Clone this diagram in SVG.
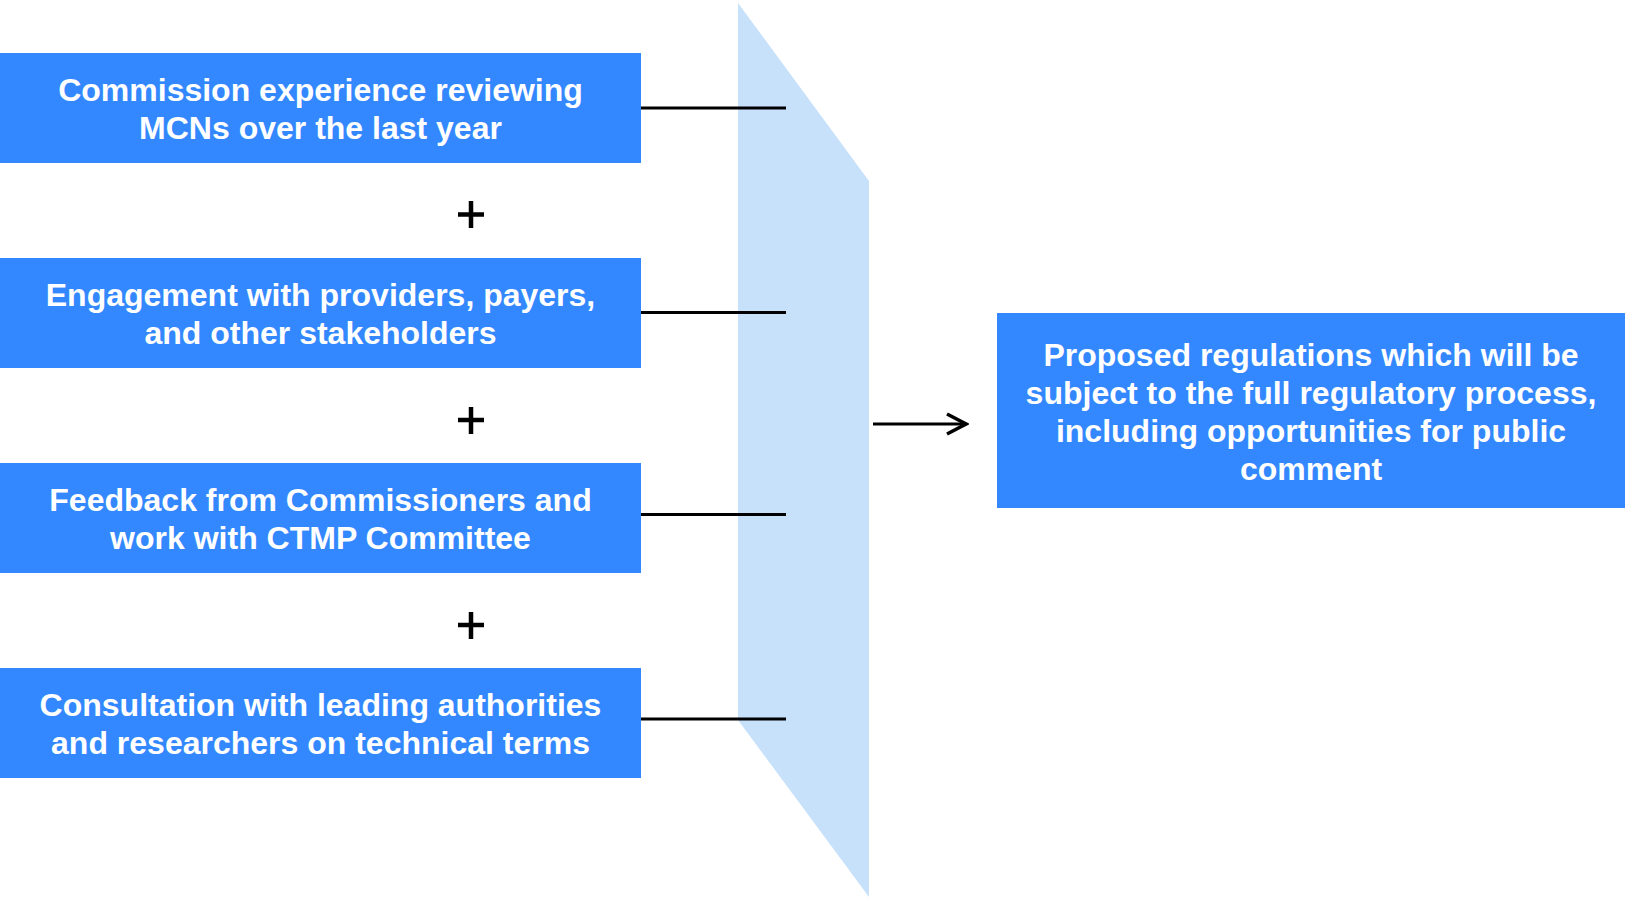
<svg xmlns="http://www.w3.org/2000/svg" width="1625" height="897" viewBox="0 0 1625 897">
<defs>
<style>
.box{fill:#3388FF}
.t{font-family:"Liberation Sans",Arial,sans-serif;font-weight:bold;font-size:32px;fill:#FFFFFF;text-anchor:middle}
.c{stroke:#000;stroke-width:3;fill:none}
.plus{stroke:#000;stroke-width:4.5;fill:none}
</style>
<marker id="arr" viewBox="0 0 24 24" markerWidth="24" markerHeight="24" refX="21" refY="12" markerUnits="userSpaceOnUse" orient="auto">
<path d="M2,2 L21,12 L2,22" fill="none" stroke="#000" stroke-width="3.5"/>
</marker>
</defs>
<rect width="1625" height="897" fill="#FFFFFF"/>
<g id="funnel">
<polygon points="738,3 869,181 869,897 738,720" fill="#C8E1FB"/>
</g>
<g id="connectors">
<line class="c" x1="640" y1="108" x2="786" y2="108"/>
<line class="c" x1="640" y1="312.5" x2="786" y2="312.5"/>
<line class="c" x1="640" y1="514.5" x2="786" y2="514.5"/>
<line class="c" x1="640" y1="719" x2="786" y2="719"/>
<line class="c" x1="873" y1="424" x2="966" y2="424" stroke-width="3.5" marker-end="url(#arr)"/>
</g>
<g id="plus1"><path class="plus" d="M458,214.5 H484 M471,201 V228"/></g>
<g id="plus2"><path class="plus" d="M458,420 H484 M471,407 V434"/></g>
<g id="plus3"><path class="plus" d="M458,625 H484 M471,612 V639"/></g>
<g id="node1">
<rect class="box" x="0" y="53" width="641" height="110"/>
<text class="t"><tspan x="320.5" y="101">Commission experience reviewing</tspan><tspan x="320.5" y="139">MCNs over the last year</tspan></text>
</g>
<g id="node2">
<rect class="box" x="0" y="258" width="641" height="110"/>
<text class="t"><tspan x="320.5" y="306">Engagement with providers, payers,</tspan><tspan x="320.5" y="344">and other stakeholders</tspan></text>
</g>
<g id="node3">
<rect class="box" x="0" y="463" width="641" height="110"/>
<text class="t"><tspan x="320.5" y="511">Feedback from Commissioners and</tspan><tspan x="320.5" y="549">work with CTMP Committee</tspan></text>
</g>
<g id="node4">
<rect class="box" x="0" y="668" width="641" height="110"/>
<text class="t"><tspan x="320.5" y="716">Consultation with leading authorities</tspan><tspan x="320.5" y="754">and researchers on technical terms</tspan></text>
</g>
<g id="node5">
<rect class="box" x="997" y="313" width="628" height="195"/>
<text class="t"><tspan x="1311" y="366">Proposed regulations which will be</tspan><tspan x="1311" y="404">subject to the full regulatory process,</tspan><tspan x="1311" y="442">including opportunities for public</tspan><tspan x="1311" y="480">comment</tspan></text>
</g>
</svg>
